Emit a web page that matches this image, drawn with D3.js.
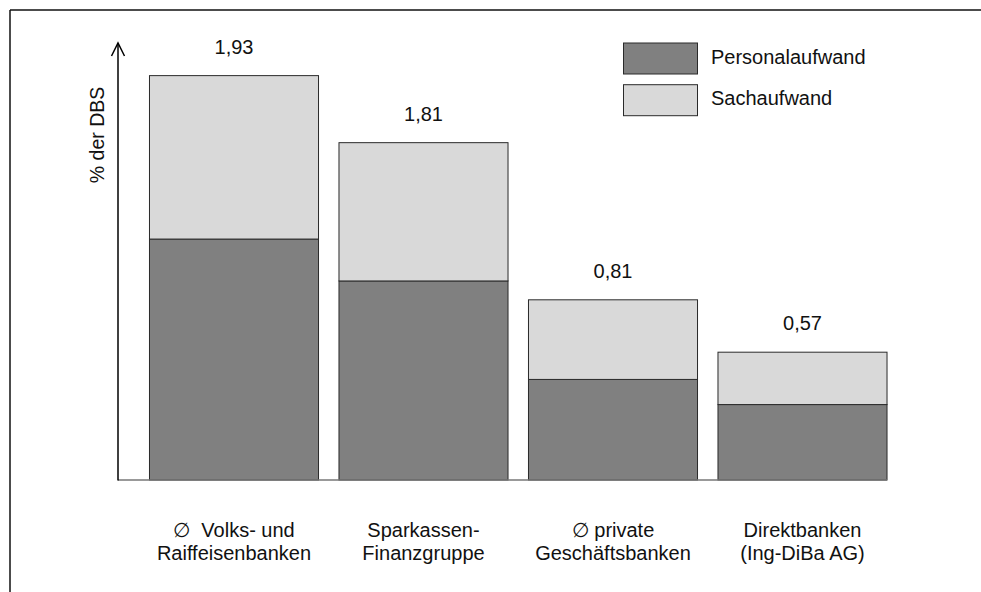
<!DOCTYPE html>
<html>
<head>
<meta charset="utf-8">
<script src="https://cdn.jsdelivr.net/npm/d3@7"></script>
<style>
  html, body { margin: 0; padding: 0; background: #fff; }
  svg { display: block; }
  text { font-family: "Liberation Sans", Arial, sans-serif; fill: #111; }
</style>
</head>
<body>
<div id="chart"></div>
<script>
// ---- data ----
const categories = ["vr", "spk", "priv", "direkt"];
const categoryLines = [
  ["\u2205  Volks- und", "Raiffeisenbanken"],
  ["Sparkassen-", "Finanzgruppe"],
  ["\u2205 private", "Geschäftsbanken"],
  ["Direktbanken", "(Ing-DiBa AG)"]
];
const personalaufwand = [1.15, 0.95, 0.48, 0.36];
const sachaufwand = [0.78, 0.66, 0.38, 0.25];
const totalLabels = ["1,93", "1,81", "0,81", "0,57"];
const seriesNames = ["Personalaufwand", "Sachaufwand"];
const seriesColors = ["#808080", "#d9d9d9"];
const yLabel = "% der DBS";

// ---- setup ----
const W = 981, H = 592;
const svg = d3.select("#chart").append("svg").attr("width", W).attr("height", H);

// frame (top and left only visible)
svg.append("line").attr("x1", 10).attr("y1", 10).attr("x2", W).attr("y2", 10)
  .attr("stroke", "#111").attr("stroke-width", 1.5);
svg.append("line").attr("x1", 10).attr("y1", 10).attr("x2", 10).attr("y2", H)
  .attr("stroke", "#111").attr("stroke-width", 1.5);

const x = d3.scaleBand().domain(categories).range([139.25, 897.25])
  .paddingInner(0.108).paddingOuter(0.054);
const y = d3.scaleLinear().domain([0, 2.1]).range([480, 40]);

const axisX = 118;

// stacked data
const rows = categories.map((c, i) => ({ cat: c, Personalaufwand: personalaufwand[i], Sachaufwand: sachaufwand[i] }));
const stack = d3.stack().keys(seriesNames)(rows);

const g = svg.append("g");
stack.forEach((layer, li) => {
  g.selectAll(null).data(layer).enter().append("rect")
    .attr("x", d => x(d.data.cat))
    .attr("y", d => y(d[1]))
    .attr("width", x.bandwidth())
    .attr("height", d => y(d[0]) - y(d[1]))
    .attr("fill", seriesColors[li])
    .attr("stroke", "#2a2a2a")
    .attr("stroke-width", 1);
});

// baseline
svg.append("line")
  .attr("x1", axisX).attr("x2", x(categories[categories.length - 1]) + x.bandwidth())
  .attr("y1", y(0)).attr("y2", y(0))
  .attr("stroke", "#777").attr("stroke-width", 1.5);

// y axis with arrow
const yTop = 43;
svg.append("line").attr("x1", axisX).attr("x2", axisX).attr("y1", y(0) + 0.5).attr("y2", yTop)
  .attr("stroke", "#000").attr("stroke-width", 1.5);
svg.append("path")
  .attr("d", `M${axisX - 6.5},${yTop + 13} L${axisX},${yTop} L${axisX + 6.5},${yTop + 13}`)
  .attr("fill", "none").attr("stroke", "#000").attr("stroke-width", 1.5);

// y label
svg.append("text")
  .attr("transform", `translate(104,135) rotate(-90)`)
  .attr("text-anchor", "middle")
  .style("font-size", "19.5px")
  .text(yLabel);

// total labels
g.selectAll(null).data(rows).enter().append("text")
  .attr("x", d => x(d.cat) + x.bandwidth() / 2)
  .attr("y", d => y(d.Personalaufwand + d.Sachaufwand) - 22)
  .attr("text-anchor", "middle")
  .style("font-size", "20px")
  .text((d, i) => totalLabels[i]);

// category labels
categories.forEach((c, i) => {
  const t = svg.append("text")
    .attr("text-anchor", "middle")
    .attr("xml:space", "preserve")
    .style("white-space", "pre")
    .style("font-size", "20px");
  categoryLines[i].forEach((line, li) => {
    t.append("tspan")
      .attr("x", x(c) + x.bandwidth() / 2)
      .attr("y", 537 + li * 22.6)
      .text(line);
  });
});

// legend
const legend = svg.append("g");
seriesNames.forEach((name, i) => {
  legend.append("rect")
    .attr("x", 623.5).attr("y", 43 + i * 41.7)
    .attr("width", 74).attr("height", 31)
    .attr("fill", seriesColors[i])
    .attr("stroke", "#2a2a2a").attr("stroke-width", 1);
  legend.append("text")
    .attr("x", 711).attr("y", 63.5 + i * 41.7)
    .style("font-size", "20px")
    .text(name);
});
</script>
</body>
</html>
